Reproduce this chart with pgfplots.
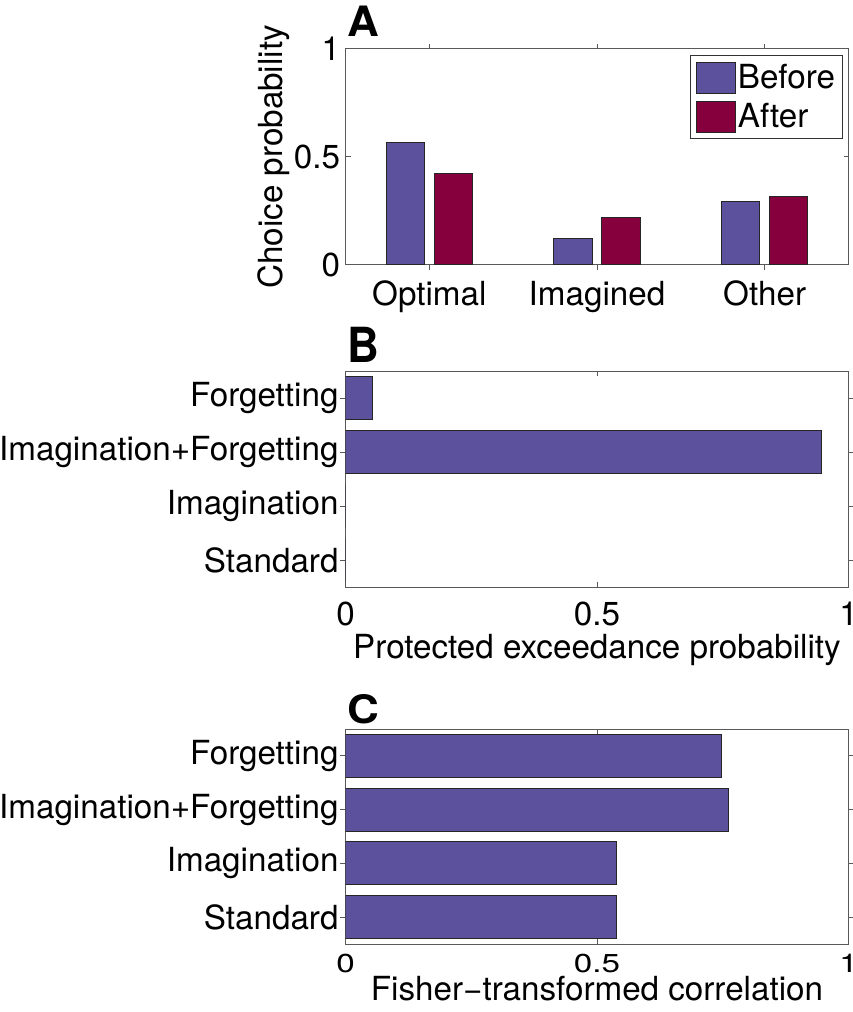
\documentclass[border=0pt]{standalone}
\usepackage{fontspec}
\setmainfont{TeX Gyre Heros}
\usepackage{graphicx}
\usepackage{pgfplots}
\pgfplotsset{compat=1.18}
\definecolor{cBefore}{RGB}{91,81,156}
\definecolor{cAfter}{RGB}{134,0,62}
\newcommand{\fs}{\fontsize{16.6}{20}\selectfont}
\newcommand{\minus}{\symbol{"2212}}
\newcommand{\sq}[1]{\scalebox{1}[0.78]{#1}}
\pgfplotsset{
  every axis title shift=0pt,
  mystyle/.style={
    scale only axis, width=251.5pt,
    axis line style={draw=black!65, line width=0.5pt},
    every tick/.style={draw=black!65, line width=0.5pt},
    tick align=inside, tick pos=both, major tick length=2.5pt,
    font=\fs, /pgf/number format/assume math mode=true,
    title style={font=\fontsize{22}{24}\selectfont\bfseries, at={(axis description cs:0,1)}, anchor=base west, inner sep=0pt, xshift=1pt},
  }
}
\begin{document}
\begin{tikzpicture}
% Panel A
\begin{axis}[mystyle, at={(172.75pt,-24.5pt)}, anchor=north west, height=108pt,
  ybar, bar width=0.23, xmin=0.5, xmax=3.5, ymin=0, ymax=1,
  xtick={1,2,3}, xticklabels={Optimal,Imagined,Other},
  ytick={0,0.5,1},
  xticklabel style={anchor=base, yshift=-17.5pt},
  yticklabel style={inner xsep=2.5pt},
  ylabel={Choice probability},
  ylabel style={at={(axis description cs:-0.1262,0.5)}, anchor=base},
  title={\scalebox{1}[0.95]{A}}, title style={yshift=6pt},
  legend image code/.code={\draw[#1] (0pt,-7.75pt) rectangle (19.5pt,7.75pt);},
  legend style={at={(axis description cs:1,1)}, anchor=north east, xshift=-3pt, yshift=-3pt,
    draw=black!80, line width=0.5pt, inner xsep=2.5pt, inner ysep=3pt, row sep=3.5pt,
    nodes={inner sep=1pt}, cells={anchor=west}, font=\fs},
]
\addplot[fill=cBefore, draw=black!85, line width=0.5pt, bar shift=-0.143] coordinates {(1,0.569) (2,0.123) (3,0.296)};
\addplot[fill=cAfter, draw=black!85, line width=0.5pt, bar shift=0.143] coordinates {(1,0.423) (2,0.219) (3,0.318)};
\legend{Before,After}
\end{axis}
% Panel B
\begin{axis}[mystyle, at={(172.75pt,-185.5pt)}, anchor=north west, height=108pt,
  xbar, bar width=0.8, xmin=0, xmax=1, ymin=0.5, ymax=4.5,
  ytick={1,2,3,4}, yticklabels={Standard,Imagination,Imagination+Forgetting,Forgetting},
  xtick={0,0.5,1},
  xticklabel style={anchor=base, yshift=-19pt},
  yticklabel style={inner xsep=0.8pt},
  xlabel={Protected exceedance probability},
  xlabel style={at={(axis description cs:0.5,0)}, anchor=base, yshift=-35.5pt},
  title={\scalebox{1}[1.1]{B}}, title style={yshift=4.5pt},
]
\addplot[fill=cBefore, draw=black!85, line width=0.5pt] coordinates {(0,1) (0,2) (0.946,3) (0.054,4)};
\end{axis}
% Panel C
\begin{axis}[mystyle, at={(172.75pt,-364.5pt)}, anchor=north west, height=107.5pt,
  xbar, bar width=0.8, xmin=0, xmax=1, ymin=0.5, ymax=4.5,
  ytick={1,2,3,4}, yticklabels={Standard,Imagination,Imagination+Forgetting,Forgetting},
  xtick={0,0.5,1}, xticklabels={\sq{0},\sq{0.5},\sq{1}},
  xticklabel style={anchor=base, yshift=-14pt},
  yticklabel style={inner xsep=0.8pt},
  xlabel={Fisher\minus transformed correlation},
  xlabel style={at={(axis description cs:0.5,0)}, anchor=base, yshift=-28pt},
  title={\scalebox{1}[0.89]{C}}, title style={yshift=3pt},
]
\addplot[fill=cBefore, draw=black!85, line width=0.5pt] coordinates {(0.539,1) (0.539,2) (0.762,3) (0.747,4)};
\end{axis}
\pgfresetboundingbox
\path[use as bounding box] (0,0) rectangle (426pt,-506pt);
\end{tikzpicture}
\end{document}
